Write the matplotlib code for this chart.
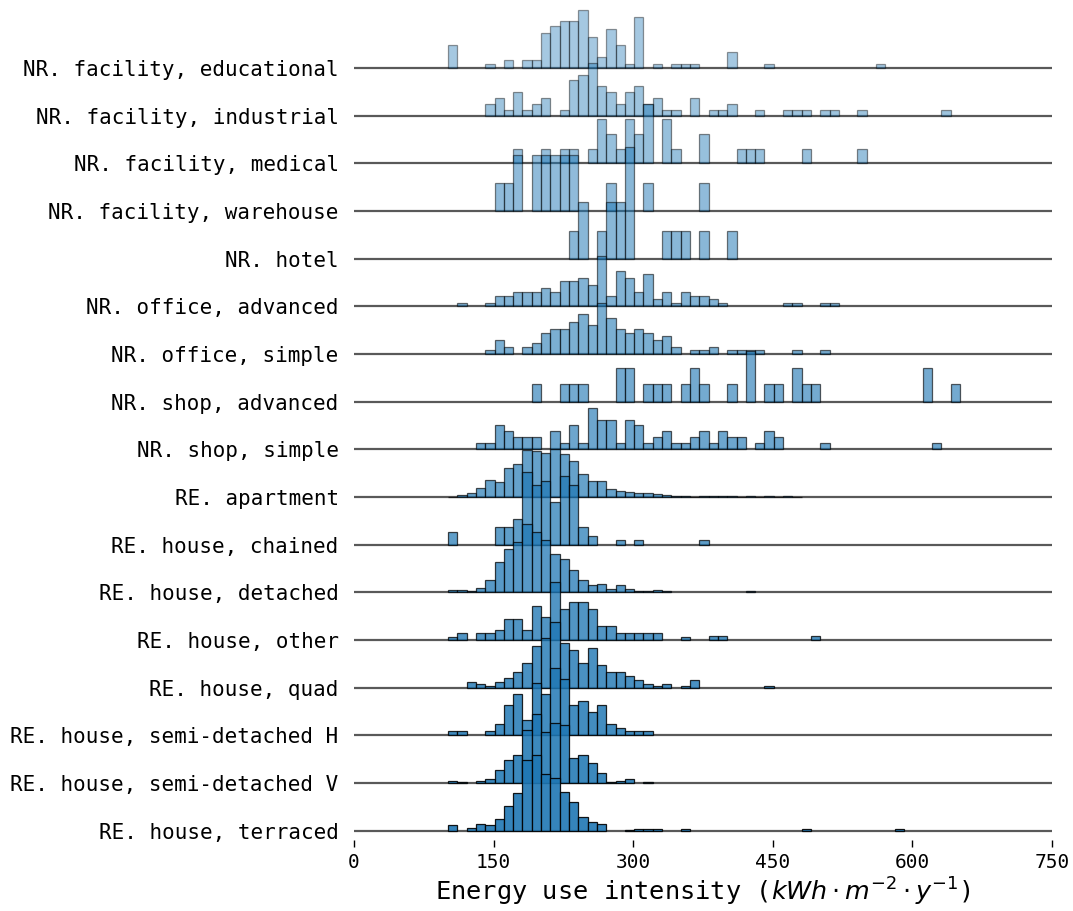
import numpy as np
import matplotlib
matplotlib.use("Agg")
import matplotlib.pyplot as plt

# Building categories (top to bottom)
categories = [
    "NR. facility, educational",
    "NR. facility, industrial",
    "NR. facility, medical",
    "NR. facility, warehouse",
    "NR. hotel",
    "NR. office, advanced",
    "NR. office, simple",
    "NR. shop, advanced",
    "NR. shop, simple",
    "RE. apartment",
    "RE. house, chained",
    "RE. house, detached",
    "RE. house, other",
    "RE. house, quad",
    "RE. house, semi-detached H",
    "RE. house, semi-detached V",
    "RE. house, terraced",
]

# Histogram bins: 10 kWh/m2/y wide, first bin starts at 101
bin_start = 101
bin_width = 10

# Share of buildings (%) per bin, for each category
educational = [4.9, 0, 0, 0, 0.8, 0, 1.6, 0, 1.6, 1.6,
               7.3, 8.9, 9.8, 9.8, 12.2, 6.5, 2.4, 8.1, 4.9, 0.8,
               10.6, 0, 0.8, 0, 0.8, 0.8, 0.8, 0, 0, 0,
               3.3, 0, 0, 0, 0.8, 0, 0, 0, 0, 0,
               0, 0, 0, 0, 0, 0, 0.8]
industrial = [0, 0, 0, 0, 2.5, 3.7, 1.2, 4.9, 1.2, 2.5,
              3.7, 0, 1.2, 7.4, 8.6, 11.1, 6.2, 4.9, 2.5, 4.9,
              6.2, 2.5, 3.7, 1.2, 1.2, 0, 3.7, 0, 1.2, 1.2,
              2.5, 0, 0, 1.2, 0, 0, 1.2, 1.2, 1.2, 0,
              1.2, 1.2, 0, 0, 1.2, 0, 0, 0, 0, 0,
              0, 0, 0, 1.2]
medical = [0, 0, 0, 0, 0, 0, 0, 3.0, 0, 0,
           3.0, 0, 3.0, 3.0, 0, 3.0, 9.2, 6.1, 3.0, 9.2,
           6.1, 12.4, 0, 9.2, 3.0, 0, 0, 6.1, 0, 0,
           0, 3.0, 3.0, 3.0, 0, 0, 0, 0, 3.0, 0,
           0, 0, 0, 0, 3.0]
warehouse = [0, 0, 0, 0, 0, 5.9, 5.9, 11.8, 0, 11.8,
             11.8, 11.8, 11.8, 11.8, 0, 0, 0, 5.9, 0, 0,
             0, 5.9, 0, 0, 0, 0, 0, 5.9]
hotel = [0, 0, 0, 0, 0, 0, 0, 0, 0, 0,
         0, 0, 0, 5.9, 11.8, 0, 5.9, 11.8, 11.8, 23.5,
         0, 0, 0, 5.9, 5.9, 5.9, 0, 5.9, 0, 0,
         5.9]
office_advanced = [0, 0.75, 0, 0, 0.75, 2.25, 2.25, 3.0, 3.0, 3.0,
                   3.8, 3.0, 5.3, 5.3, 6.0, 4.5, 10.5, 2.25, 7.5, 6.0,
                   3.0, 6.8, 1.5, 3.0, 0.75, 3.0, 2.25, 2.25, 1.5, 0.75,
                   0, 0, 0, 0, 0, 0, 0.75, 0.75, 0, 0,
                   0.75, 0.75]
office_simple = [0, 0, 0, 0, 0.75, 3.0, 1.5, 0, 1.5, 2.25,
                 4.5, 5.3, 5.3, 6.8, 8.3, 6.0, 10.7, 7.5, 5.3, 4.5,
                 5.3, 4.5, 3.0, 3.8, 1.5, 0, 0.75, 0.75, 1.5, 0,
                 0.75, 0.75, 0.75, 0.75, 0, 0, 0, 0.75, 0, 0,
                 0.75]
shop_advanced = [0, 0, 0, 0, 0, 0, 0, 0, 0, 3.6,
                 0, 0, 3.6, 3.6, 3.6, 0, 0, 0, 7.1, 7.1,
                 0, 3.6, 3.6, 3.6, 0, 3.6, 7.1, 3.6, 0, 0,
                 3.6, 0, 10.7, 0, 3.6, 3.6, 0, 7.1, 3.6, 3.6,
                 0, 0, 0, 0, 0, 0, 0, 0, 0, 0,
                 0, 7.1, 0, 0, 3.6]
shop_simple = [0, 0, 0, 1.25, 1.25, 5.0, 3.75, 2.5, 2.5, 2.5,
               0, 3.75, 1.25, 5.0, 1.25, 8.75, 6.25, 6.25, 1.25, 6.25,
               5.0, 1.25, 2.5, 3.75, 1.25, 1.25, 2.5, 3.75, 1.25, 3.75,
               2.5, 2.5, 0, 1.25, 3.75, 2.5, 0, 0, 0, 0,
               1.25, 0, 0, 0, 0, 0, 0, 0, 0, 0,
               0, 0, 1.25]
apartment = [0.1, 0.35, 0.9, 1.95, 3.5, 3.2, 6.1, 7.0, 9.8, 9.6,
             9.3, 10.0, 9.1, 7.5, 4.9, 3.3, 3.3, 1.7, 1.2, 1.1,
             0.9, 0.8, 0.6, 0.4, 0.15, 0.25, 0.1, 0.25, 0.15, 0.2,
             0.15, 0.1, 0.25, 0.1, 0.15, 0.1, 0.25, 0.1]
chained = [2.7, 0, 0, 0, 0, 3.6, 3.6, 5.4, 15.2, 12.5,
           13.4, 8.9, 14.3, 12.5, 3.6, 1.8, 0, 0, 0.9, 0,
           0.9, 0, 0, 0, 0, 0, 0, 0.9]
detached = [0.4, 0.4, 0.3, 1.0, 2.5, 6.4, 9.0, 10.6, 14.3, 12.7,
            11.0, 8.1, 6.9, 4.7, 2.5, 1.6, 1.7, 0.8, 1.6, 0.6,
            0.2, 0.2, 0.4, 0.2, 0, 0, 0, 0, 0, 0,
            0, 0, 0.2]
house_other = [0.7, 1.4, 0, 1.4, 1.4, 2.1, 4.3, 4.3, 2.1, 7.1,
               4.9, 12.1, 6.4, 7.9, 7.9, 6.4, 2.9, 2.9, 1.4, 1.4,
               1.4, 1.4, 1.4, 0, 0, 0.7, 0, 0, 0.8, 0.8,
               0, 0, 0, 0, 0, 0, 0, 0, 0, 0.8]
quad = [0, 0, 1.2, 0.8, 0.4, 1.2, 1.95, 3.2, 5.2, 8.8,
        10.5, 13.8, 9.3, 8.0, 5.2, 8.4, 4.8, 3.2, 3.2, 2.4,
        1.6, 0.8, 0.4, 0.8, 0, 0.4, 1.6, 0, 0, 0,
        0, 0, 0, 0, 0.4]
semi_detached_h = [0.9, 0.9, 0, 0, 0.9, 2.45, 6.4, 8.7, 3.2, 11.0,
                   8.7, 14.1, 11.8, 6.4, 7.1, 4.8, 6.4, 2.45, 1.6, 0.9,
                   0.9, 0.9]
semi_detached_v = [0.5, 0.3, 0, 0.5, 0.85, 2.8, 4.8, 5.9, 11.1, 14.5,
                   10.7, 12.5, 12.2, 5.2, 5.9, 4.2, 2.2, 0.3, 0.5, 0.85,
                   0, 0.3]
terraced = [1.2, 0, 0.55, 1.5, 1.2, 2.45, 5.1, 8.0, 14.9, 15.9,
            11.9, 11.0, 8.2, 6.1, 2.9, 1.9, 1.5, 0, 0, 0.2,
            0.4, 0.25, 0.25, 0, 0, 0.25, 0, 0, 0, 0,
            0, 0, 0, 0, 0, 0, 0, 0, 0.25, 0,
            0, 0, 0, 0, 0, 0, 0, 0, 0.25]

series = [educational, industrial, medical, warehouse, hotel,
          office_advanced, office_simple, shop_advanced, shop_simple,
          apartment, chained, detached, house_other, quad,
          semi_detached_h, semi_detached_v, terraced]

xticks = [0, 150, 300, 450, 600, 750]

W, H = 1073, 911
fig = plt.figure(figsize=(W / 100, H / 100), dpi=100)
ax = fig.add_axes([354 / W, (H - 840.2) / H, 698 / W, (840.2 - 6) / H])

n = len(categories)
step = 10.0  # vertical offset between rows (in % share units)
alphas = np.linspace(0.4, 0.9, n)
base_color = "#1f77b4"
bases = []
for i, (cat, vals) in enumerate(zip(categories, series)):
    base = (n - 1 - i) * step
    bases.append(base)
    vals = np.asarray(vals, dtype=float)
    left = bin_start + bin_width * np.arange(len(vals))
    m = vals > 0
    ax.bar(left[m], vals[m], width=bin_width, bottom=base, align="edge",
           color=base_color, alpha=alphas[i], edgecolor="black",
           linewidth=0.9, zorder=3 + i)
    ax.plot([0, 750], [base, base], color="black", alpha=0.65, lw=1.6,
            zorder=2 + i, solid_capstyle="butt")

ax.set_xlim(0, 750)
ax.set_ylim(-2, 173)
ax.set_xticks(xticks)
ax.set_xticklabels([str(t) for t in xticks], fontsize=14, family="DejaVu Sans Mono")
ax.set_yticks(bases)
ax.set_yticklabels(categories, fontsize=15, family="DejaVu Sans Mono")
ax.tick_params(axis="y", length=0, pad=11)
ax.tick_params(axis="x", length=5, width=1, pad=4)
for s in ax.spines.values():
    s.set_visible(False)
ax.set_xlabel(r"Energy use intensity ($kWh\cdot m^{-2}\cdot y^{-1}$)",
              fontsize=18.3, family="DejaVu Sans Mono", labelpad=3)

fig.savefig("out.png", dpi=100)
